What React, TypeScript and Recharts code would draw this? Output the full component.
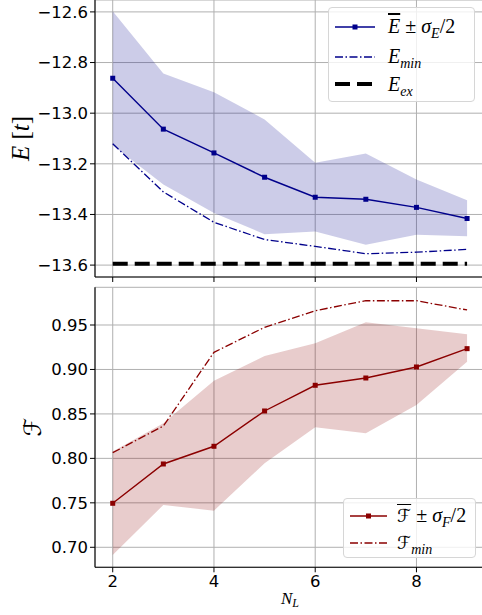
import { Area, CartesianGrid, ComposedChart, Line, XAxis, YAxis } from 'recharts';

// N_L on the x axis
const nL = [2, 3, 4, 5, 6, 7, 8, 9];

// energy panel
const eMean = [-12.862, -13.063, -13.157, -13.253, -13.332, -13.34, -13.372, -13.416];
const eUpper = [-12.597, -12.843, -12.917, -13.025, -13.196, -13.159, -13.262, -13.344];
const eLower = [-13.127, -13.282, -13.394, -13.478, -13.467, -13.52, -13.48, -13.486];
const eMin = [-13.121, -13.311, -13.431, -13.499, -13.526, -13.555, -13.549, -13.538];
const eExact = -13.595;

// fidelity panel
const fMean = [0.7495, 0.7937, 0.8136, 0.8533, 0.8822, 0.8904, 0.9028, 0.9234];
const fUpper = [0.8076, 0.8395, 0.8874, 0.9151, 0.9294, 0.953, 0.9463, 0.9395];
const fLower = [0.6914, 0.7476, 0.7412, 0.7945, 0.835, 0.8282, 0.86, 0.9087];
const fMin = [0.8064, 0.8364, 0.9193, 0.9474, 0.9661, 0.9773, 0.9773, 0.9669];

const xTicks = [2, 4, 6, 8];
const eTicks = [-13.6, -13.4, -13.2, -13.0, -12.8, -12.6];
const fTicks = [0.7, 0.75, 0.8, 0.85, 0.9, 0.95];

const eData = nL.map((n, i) => ({
  n,
  mean: eMean[i],
  band: [eLower[i], eUpper[i]],
  min: eMin[i],
  ex: eExact,
}));
const fData = nL.map((n, i) => ({
  n,
  mean: fMean[i],
  band: [fLower[i], fUpper[i]],
  min: fMin[i],
}));

const BLUE = '#00008b';
const RED = '#8b0000';
const GRID = '#b0b0b0';
const DASHDOT = '8 2.5 1.5 2.5';
const tickFont = { fontFamily: 'DejaVu Sans', fontSize: 16.5, fill: '#000' };
const mathFont = '"Liberation Serif", "DejaVu Serif", serif';
const calFont = '"DejaVu Sans", "DejaVu Serif", serif';

const square = (color: string) => (p: any) => (
  <rect key={p.key ?? p.index} x={p.cx - 2.5} y={p.cy - 2.5} width={5} height={5} fill={color} />
);

const minus = (v: number) => v.toFixed(1).replace('-', '\u2212');

function ELabel({ viewBox }: any) {
  const cx = 19.5;
  const cy = viewBox.y + viewBox.height / 2;
  return (
    <text x={cx} y={cy} transform={`rotate(-90 ${cx} ${cy})`} textAnchor="middle" dominantBaseline="central"
      fontFamily={mathFont} fontSize={25} fill="#000">
      <tspan fontStyle="italic">E</tspan>
      <tspan> [</tspan>
      <tspan fontStyle="italic">t</tspan>
      <tspan>]</tspan>
    </text>
  );
}

function FLabel({ viewBox }: any) {
  const cx = 33;
  const cy = viewBox.y + viewBox.height / 2;
  return (
    <text x={cx} y={cy} transform={`rotate(-90 ${cx} ${cy})`} textAnchor="middle" dominantBaseline="central"
      fontFamily={calFont} fontSize={24} fill="#000">
      ℱ
    </text>
  );
}

function NLabel({ viewBox }: any) {
  return (
    <text x={viewBox.x + viewBox.width / 2} y={viewBox.y + 36.7} textAnchor="middle"
      fontFamily={mathFont} fontSize={17} fontStyle="italic" fill="#000">
      N<tspan fontSize={12} dy={3}>L</tspan>
    </text>
  );
}

function Swatch({ color, dash, width = 1.4, marker = false, len = 40 }: any) {
  return (
    <svg width={len} height={10} style={{ display: 'block' }}>
      <line x1={0} y1={5} x2={len} y2={5} stroke={color} strokeWidth={width} strokeDasharray={dash} />
      {marker && <rect x={len / 2 - 2.5} y={2.5} width={5} height={5} fill={color} />}
    </svg>
  );
}

const boxStyle: React.CSSProperties = {
  position: 'absolute',
  border: '1px solid #d6d6d6',
  borderRadius: 4,
  background: 'rgba(255,255,255,0.8)',
  boxSizing: 'border-box',
};

const rowStyle = (top: number, left: number): React.CSSProperties => ({
  position: 'absolute',
  top,
  left,
  display: 'flex',
  alignItems: 'center',
  height: 24,
  marginTop: -12,
});

const textStyle = (left: number): React.CSSProperties => ({
  position: 'absolute',
  left,
  fontFamily: mathFont,
  fontSize: 20,
  whiteSpace: 'nowrap',
  lineHeight: '24px',
});

const cal: React.CSSProperties = { fontFamily: calFont, fontStyle: 'normal', fontSize: 18 };

function TopLegend() {
  return (
    <div style={{ ...boxStyle, left: 328, top: 7, width: 147, height: 95 }}>
      <div style={rowStyle(18.7, 6)}><Swatch color={BLUE} marker /></div>
      <div style={{ ...textStyle(59), top: 6 }}>
        <i style={{ textDecoration: 'overline' }}>E</i> ± <i>σ</i>
        <sub style={{ fontSize: 14 }}><i>E</i></sub>/2
      </div>
      <div style={rowStyle(48.7, 6)}><Swatch color={BLUE} dash={DASHDOT} width={1.3} /></div>
      <div style={{ ...textStyle(59), top: 36 }}>
        <i>E</i><sub style={{ fontSize: 14 }}><i>min</i></sub>
      </div>
      <div style={rowStyle(76.3, 6)}><Swatch color="#000" dash="15 7" width={4} /></div>
      <div style={{ ...textStyle(59), top: 64 }}>
        <i>E</i><sub style={{ fontSize: 14 }}><i>ex</i></sub>
      </div>
    </div>
  );
}

function BottomLegend() {
  return (
    <div style={{ ...boxStyle, left: 343, top: 498, width: 133, height: 60 }}>
      <div style={rowStyle(17, 6)}><Swatch color={RED} marker len={37} /></div>
      <div style={{ ...textStyle(53), top: 4 }}>
        <span style={{ ...cal, textDecoration: 'overline' }}>ℱ</span> ± <i>σ</i>
        <sub style={{ fontSize: 14 }}><i>F</i></sub>/2
      </div>
      <div style={rowStyle(43.7, 6)}><Swatch color={RED} dash={DASHDOT} width={1.3} len={37} /></div>
      <div style={{ ...textStyle(53), top: 31 }}>
        <span style={cal}>ℱ</span><sub style={{ fontSize: 14 }}><i>min</i></sub>
      </div>
    </div>
  );
}

export default function App() {
  return (
    <div style={{ position: 'fixed', left: 0, top: 0, width: 482, height: 615, overflow: 'hidden', background: '#fff' }}>
      <div style={{ position: 'absolute', left: 0, top: 0 }}>
        <ComposedChart width={500} height={287} data={eData} margin={{ top: 0, right: 15.2, left: 0, bottom: 0 }}>
          <CartesianGrid stroke={GRID} strokeWidth={1} />
          <XAxis dataKey="n" type="number" domain={[1.65, 9.35]} ticks={xTicks} allowDataOverflow
            tickFormatter={() => ''} tickSize={5} height={10}
            axisLine={{ stroke: '#000', strokeWidth: 1.1 }} tickLine={{ stroke: '#000' }} />
          <YAxis type="number" domain={[-13.647, -12.553]} ticks={eTicks} allowDataOverflow width={95}
            tickFormatter={minus} tick={tickFont} tickSize={5} tickMargin={2}
            axisLine={{ stroke: '#000', strokeWidth: 1.1 }} tickLine={{ stroke: '#000' }}
            label={<ELabel />} />
          <Area dataKey="band" type="linear" stroke="none" fill={BLUE} fillOpacity={0.2} isAnimationActive={false} activeDot={false} />
          <Line dataKey="min" type="linear" stroke={BLUE} strokeWidth={1.3} strokeDasharray={DASHDOT} dot={false} activeDot={false} isAnimationActive={false} />
          <Line dataKey="ex" type="linear" stroke="#000" strokeWidth={4} strokeDasharray="15 7" dot={false} activeDot={false} isAnimationActive={false} />
          <Line dataKey="mean" type="linear" stroke={BLUE} strokeWidth={1.4} dot={square(BLUE)} activeDot={false} isAnimationActive={false} />
        </ComposedChart>
      </div>
      <div style={{ position: 'absolute', left: 0, top: 286 }}>
        <ComposedChart width={500} height={329.3} data={fData} margin={{ top: 1.3, right: 15.2, left: 0, bottom: 0 }}>
          <CartesianGrid stroke={GRID} strokeWidth={1} />
          <XAxis dataKey="n" type="number" domain={[1.65, 9.35]} ticks={xTicks} allowDataOverflow
            tick={tickFont} tickSize={5} tickMargin={3} height={48}
            axisLine={{ stroke: '#000', strokeWidth: 1.1 }} tickLine={{ stroke: '#000' }}
            label={<NLabel />} />
          <XAxis xAxisId="top" orientation="top" dataKey="n" type="number" domain={[1.65, 9.35]} ticks={xTicks}
            allowDataOverflow tick={false} tickLine={false} height={0}
            axisLine={{ stroke: '#000', strokeWidth: 1.1 }} />
          <YAxis type="number" domain={[0.6775, 0.9924]} ticks={fTicks} allowDataOverflow width={95}
            tickFormatter={(v: number) => v.toFixed(2)} tick={tickFont} tickSize={5} tickMargin={2}
            axisLine={{ stroke: '#000', strokeWidth: 1.1 }} tickLine={{ stroke: '#000' }}
            label={<FLabel />} />
          <Area dataKey="band" type="linear" stroke="none" fill={RED} fillOpacity={0.2} isAnimationActive={false} activeDot={false} />
          <Line dataKey="min" type="linear" stroke={RED} strokeWidth={1.3} strokeDasharray={DASHDOT} dot={false} activeDot={false} isAnimationActive={false} />
          <Line dataKey="mean" type="linear" stroke={RED} strokeWidth={1.4} dot={square(RED)} activeDot={false} isAnimationActive={false} />
        </ComposedChart>
      </div>
      <TopLegend />
      <BottomLegend />
    </div>
  );
}
